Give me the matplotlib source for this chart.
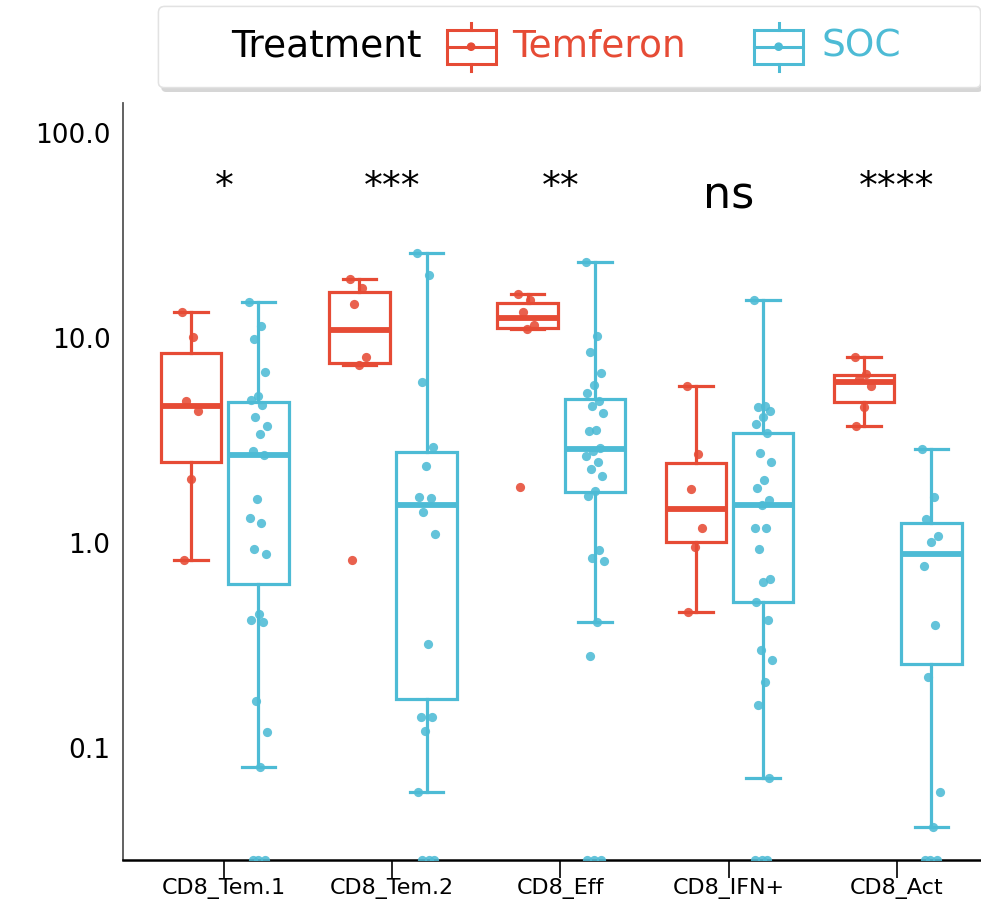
import numpy as np
import matplotlib
matplotlib.use('Agg')
import matplotlib.pyplot as plt
import matplotlib.patheffects as pe
from matplotlib import cbook
from matplotlib.lines import Line2D
from matplotlib.patches import Rectangle, Circle
from matplotlib.offsetbox import AnchoredOffsetbox, DrawingArea, HPacker, TextArea
from matplotlib.ticker import NullLocator

plt.rcParams['font.family'] = ['DejaVu Sans']

CATEGORIES = ['CD8_Tem.1', 'CD8_Tem.2', 'CD8_Eff', 'CD8_IFN+', 'CD8_Act']
GROUPS = ['Temferon', 'SOC']
COLORS = {'Temferon': '#E64B35', 'SOC': '#4DBBD5'}
SIGNIF = ['*', '***', '**', 'ns', '****']

# % of cells per patient sample, 0 = not detected (drawn on the floor of the axis)
temferon_values = [
    [13.4, 10.1, 4.9, 4.4, 2.05, 0.83],
    [19.4, 17.5, 14.6, 8.1, 7.4, 0.83],
    [16.4, 15.3, 13.4, 11.6, 11.0, 1.88],
    [5.83, 2.72, 1.83, 1.18, 0.96, 0.46],
    [8.1, 6.67, 6.3, 5.85, 4.6, 3.72],
]
soc_values = [
    [15.0, 11.4, 9.9, 6.8, 5.2, 5.0, 4.7, 4.1, 3.7, 3.4, 2.8, 2.7, 1.64, 1.32, 1.25,
     0.93, 0.88, 0.45, 0.42, 0.41, 0.17, 0.12, 0.081, 0, 0, 0],
    [26.0, 20.3, 6.1, 2.94, 2.38, 1.67, 1.66, 1.42, 1.1, 0.32, 0.142, 0.142, 0.121,
     0.061, 0, 0, 0],
    [23.5, 10.2, 8.5, 6.75, 5.9, 5.4, 4.9, 4.66, 4.3, 3.55, 3.5, 2.92, 2.82, 2.66,
     2.48, 2.3, 2.12, 1.8, 1.7, 0.92, 0.84, 0.82, 0.41, 0.28, 0, 0, 0],
    [15.3, 4.66, 4.6, 4.4, 4.1, 3.8, 3.44, 2.75, 2.48, 2.03, 1.85, 1.62, 1.53, 1.18,
     1.18, 0.93, 0.67, 0.645, 0.515, 0.42, 0.30, 0.27, 0.21, 0.162, 0.071, 0, 0, 0],
    [2.87, 1.68, 1.31, 1.08, 1.01, 0.77, 0.40, 0.222, 0.061, 0.041, 0, 0, 0],
]
VALUES = {'Temferon': temferon_values, 'SOC': soc_values}

Y_TICKS = [0.1, 1.0, 10.0, 100.0]
Y_TICK_LABELS = ['0.1', '1.0', '10.0', '100.0']
YMIN, YMAX = 0.0284, 140.0
SIGNIF_Y = 45.0
OFFSETS = {'Temferon': -0.195, 'SOC': 0.205}
BOX_WIDTH = 0.36


def log_box_stats(values):
    # box stats computed on log scale, zeros left out
    vals = np.asarray(values, dtype=float)
    logs = np.log10(vals[vals > 0])
    st = cbook.boxplot_stats(logs, whis=1.5)[0]
    out = {k: 10 ** st[k] for k in ('med', 'q1', 'q3', 'whislo', 'whishi')}
    out['fliers'] = []
    return out


def jitter(n, spread=0.11):
    return ((np.arange(n) * 0.618034) % 1.0 - 0.5) * spread


def legend_icon(color):
    da = DrawingArea(37.4, 34.6, 0, 0)
    lw = 2.2
    da.add_artist(Rectangle((1.1, 5.0), 35.2, 24.6, fill=False, edgecolor=color, linewidth=lw))
    da.add_artist(Line2D([18.7, 18.7], [0, 5.0], color=color, linewidth=lw))
    da.add_artist(Line2D([18.7, 18.7], [29.6, 34.6], color=color, linewidth=lw))
    da.add_artist(Line2D([1.1, 36.3], [17.3, 17.3], color=color, linewidth=lw))
    da.add_artist(Circle((18.7, 17.3), 2.6, color=color))
    return da


def spacer(width):
    return DrawingArea(width, 1, 0, 0)


fig = plt.figure(figsize=(9.81, 9.14), dpi=100)
ax = fig.add_axes([123 / 981, 54 / 914, 858 / 981, 757 / 914])
ax.set_yscale('log')

for i, cat in enumerate(CATEGORIES):
    for group in GROUPS:
        color = COLORS[group]
        values = VALUES[group][i]
        pos = i + OFFSETS[group]
        stats = log_box_stats(values)
        ax.bxp([stats], positions=[pos], widths=BOX_WIDTH, capwidths=0.2,
               showfliers=False, patch_artist=True,
               boxprops=dict(facecolor='white', edgecolor=color, linewidth=2.3),
               whiskerprops=dict(color=color, linewidth=2.3),
               capprops=dict(color=color, linewidth=2.3),
               medianprops=dict(color=color, linewidth=4.2, solid_capstyle='butt'),
               zorder=2)
        vals = np.asarray(values, dtype=float)
        y = np.where(vals > 0, vals, YMIN)
        x = pos + jitter(len(vals))
        ax.scatter(x, y, s=44, color=color, alpha=0.88, linewidths=0, zorder=4)
    is_ns = SIGNIF[i] == 'ns'
    ax.text(i, SIGNIF_Y * (0.955 if is_ns else 1.07), SIGNIF[i], ha='center', va='baseline',
            fontsize=32 if is_ns else 27, color='black')

ax.set_xlim(-0.6, 4.5)
ax.set_ylim(YMIN, YMAX)
ax.set_xticks(range(len(CATEGORIES)))
ax.set_xticklabels(CATEGORIES)
ax.set_yticks(Y_TICKS)
ax.set_yticklabels(Y_TICK_LABELS)
ax.yaxis.set_minor_locator(NullLocator())
ax.tick_params(axis='x', length=13, width=1.2, pad=0, labelsize=16, color='black')
ax.tick_params(axis='y', length=0, pad=9, labelsize=19)
ax.spines['top'].set_visible(False)
ax.spines['right'].set_visible(False)
ax.spines['left'].set_color('#555555')
ax.spines['left'].set_linewidth(1.3)
ax.spines['bottom'].set_color('black')
ax.spines['bottom'].set_linewidth(1.8)

# legend: "Treatment" inline with the two group entries
text_size = 27
children = [
    spacer(41),
    TextArea('Treatment', textprops=dict(color='black', size=text_size)),
    spacer(16.6),
    legend_icon(COLORS['Temferon']),
    spacer(10.8),
    TextArea('Temferon', textprops=dict(color=COLORS['Temferon'], size=text_size)),
    spacer(48.2),
    legend_icon(COLORS['SOC']),
    spacer(12.2),
    TextArea('SOC', textprops=dict(color=COLORS['SOC'], size=text_size)),
    spacer(45),
]
row = HPacker(children=children, align='center', pad=0, sep=0)
legend = AnchoredOffsetbox(loc='upper left', child=row, pad=1.2, borderpad=0,
                           frameon=True, prop=dict(size=10),
                           bbox_to_anchor=(158 / 981, (914 - 6) / 914),
                           bbox_transform=fig.transFigure)
legend.patch.set_boxstyle('round,pad=0,rounding_size=0.4')
legend.patch.set_facecolor('white')
legend.patch.set_edgecolor('#e2e2e2')
legend.patch.set_linewidth(1.0)
legend.patch.set_path_effects([pe.withSimplePatchShadow(offset=(2, -3), shadow_rgbFace='0.55', alpha=0.35),
                               pe.Normal()])
fig.add_artist(legend)

fig.savefig('out.png', dpi=100)
